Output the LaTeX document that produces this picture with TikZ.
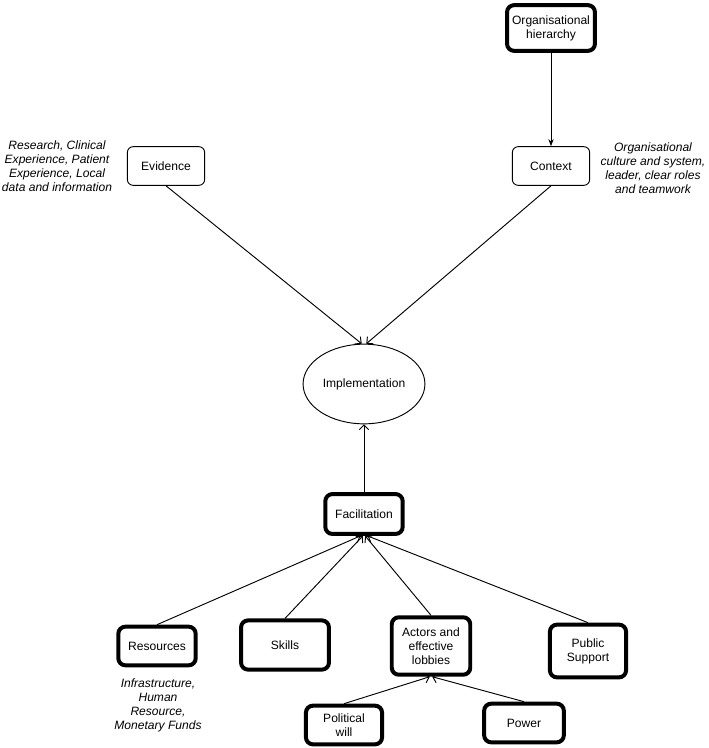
\documentclass[tikz,border=0pt]{standalone}
\usepackage{fontspec}
\setmainfont{Liberation Sans}
\usepackage{tikz}
\usetikzlibrary{positioning, shapes.geometric, arrows.meta}

\begin{document}
\begin{tikzpicture}[x=0.03cm, y=-0.03cm, >={Straight Barb[length=4pt, width=8pt]},
        every node/.style={font=\fontsize{10.3}{12}\selectfont, align=center},
        box/.style={draw, rectangle, rounded corners=5pt, line width=0.8pt},
        thickbox/.style={draw, rectangle, rounded corners=6pt, line width=3.4pt},
        note/.style={font=\fontsize{10.3}{12}\selectfont\itshape}]
    \useasboundingbox (0,0) rectangle (709,748);

    % top row
    \node (hierarchy) [thickbox, minimum width=75pt, minimum height=39pt] at (551,28) {Organisational\\hierarchy};
    \node (evidence) [box, minimum width=66pt, minimum height=33pt] at (166,166) {Evidence};
    \node (context) [box, minimum width=66pt, minimum height=33pt] at (551,166) {Context};
    \node (evidencenote) [note] at (57,166) {Research, Clinical\\Experience, Patient\\Experience, Local\\data and information};
    \node (contextnote) [note] at (653,168) {Organisational\\culture and system,\\leader, clear roles\\and teamwork};

    % centre
    \node (impl) [draw, ellipse, line width=0.8pt, minimum width=104pt, minimum height=68pt, inner sep=0pt] at (364,384) {Implementation};
    \node (facil) [thickbox, minimum width=66pt, minimum height=34pt] at (364,514) {Facilitation};

    % bottom rows
    \node (resources) [thickbox, minimum width=66pt, minimum height=33pt] at (157,646) {Resources};
    \node (skills) [thickbox, minimum width=75pt, minimum height=42pt] at (285,645) {Skills};
    \node (actors) [thickbox, minimum width=67pt, minimum height=49pt] at (431,646) {Actors and\\effective\\lobbies};
    \node (public) [thickbox, minimum width=65pt, minimum height=45pt] at (588,651) {Public\\Support};
    \node (resnote) [note] at (158,705) {Infrastructure,\\Human\\Resource,\\Monetary Funds};
    \node (political) [thickbox, minimum width=65pt, minimum height=33pt] at (344,725) {Political\\will};
    \node (power) [thickbox, minimum width=68pt, minimum height=33pt] at (524,723) {Power};

    % connectors
    \draw [-{Stealth[length=6pt]}, line width=0.8pt] (hierarchy) -- (context);
    \draw [->, line width=0.8pt] (evidence.south) -- ([xshift=-2pt]impl.north);
    \draw [->, line width=0.8pt] (context.south) -- ([xshift=2pt]impl.north);
    \draw [->, line width=0.8pt] (facil) -- (impl);
    \draw [->, line width=0.8pt] (resources.north) -- ([xshift=-3pt]facil.south);
    \draw [->, line width=0.8pt] (skills.north) -- ([xshift=-1pt]facil.south);
    \draw [->, line width=0.8pt] (actors.north) -- ([xshift=1pt]facil.south);
    \draw [->, line width=0.8pt] (public.north) -- ([xshift=3pt]facil.south);
    \draw [->, line width=0.8pt] (political.north) -- ([xshift=-1pt]actors.south);
    \draw [->, line width=0.8pt] (power.north) -- ([xshift=1pt]actors.south);
\end{tikzpicture}
\end{document}
